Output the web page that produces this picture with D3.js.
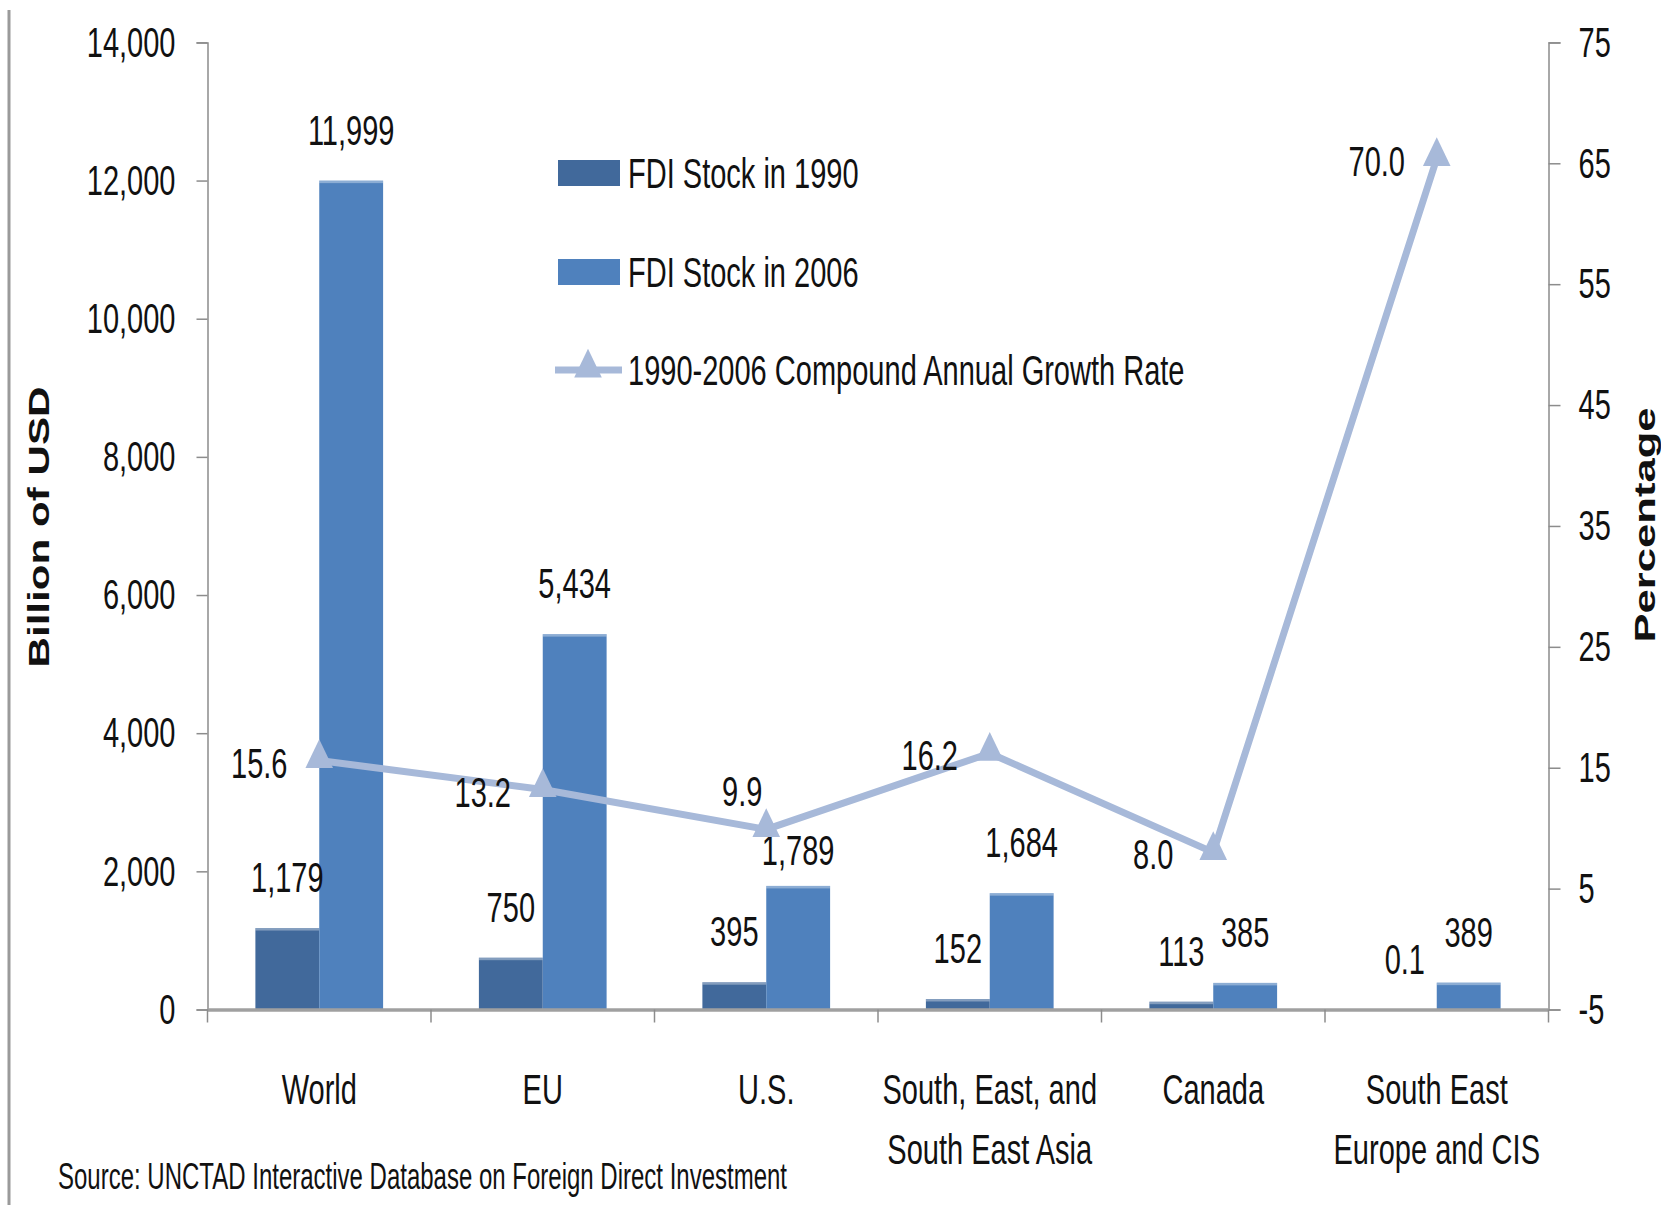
<!DOCTYPE html>
<html>
<head>
<meta charset="utf-8">
<script src="https://cdn.jsdelivr.net/npm/d3@7"></script>
<style>
  body { margin: 0; background: #fff; }
  svg { display: block; }
  text { font-family: "Liberation Sans", Arial, sans-serif; fill: #111; }
</style>
</head>
<body>
<svg id="chart" width="1661" height="1205"></svg>
<script>
const categories = ["World", "EU", "U.S.", "South, East, and\nSouth East Asia", "Canada", "South East\nEurope and CIS"];
const stock1990 = [1179, 750, 395, 152, 113, 0.1];
const stock2006 = [11999, 5434, 1789, 1684, 385, 389];
// plotted growth point and the label printed next to it (last one differs in the source)
const growthRate = [15.6, 13.2, 9.9, 16.2, 8.0, 65.4];
const growthLabels = ["15.6", "13.2", "9.9", "16.2", "8.0", "70.0"];
const leftTicks = [0, 2000, 4000, 6000, 8000, 10000, 12000, 14000];
const rightTicks = [-5, 5, 15, 25, 35, 45, 55, 65, 75];
const seriesNames = ["FDI Stock in 1990", "FDI Stock in 2006", "1990-2006 Compound Annual Growth Rate"];

const svg = d3.select("#chart");
const FS = 43, SX = 0.675;
const c1990 = "#41699b", c2006 = "#4f81bd", cLine = "#a7b9d9";

const plotL = 207.5, plotR = 1548.5, plotT = 42.4, plotB = 1009.5;

const x = d3.scaleBand().domain(d3.range(categories.length)).range([plotL, plotR]);
const yL = d3.scaleLinear().domain([0, 14000]).range([plotB, plotT]);
const yR = d3.scaleLinear().domain([-5, 75]).range([plotB, plotT]);
const barW = x.bandwidth() / 3.5;
const fmt = d3.format(",");
const mid = i => x(i) + x.bandwidth() / 2;

// squeezed text helper
function label(g, x0, y0, txt, anchor) {
  return g.append("text")
    .attr("transform", `translate(${x0},${y0}) scale(${SX},1)`)
    .attr("text-anchor", anchor || "middle")
    .attr("dy", "0.35em")
    .style("font-size", FS + "px")
    .text(txt);
}

// frame line on the left
svg.append("line").attr("x1", 9).attr("x2", 9).attr("y1", 10).attr("y2", 1205)
  .attr("stroke", "#9a9a9a").attr("stroke-width", 3);

// bars
const bars = svg.append("g");
function drawBars(data, off, col) {
  const g = bars.append("g");
  g.selectAll("rect.bar").data(data).enter().append("rect").attr("class", "bar")
    .attr("x", (d, i) => mid(i) + off)
    .attr("y", d => yL(d)).attr("width", barW).attr("height", d => plotB - yL(d))
    .attr("fill", col);
  // light top edge
  g.selectAll("rect.edge").data(data.filter(d => d > 1)).enter().append("rect").attr("class", "edge")
    .attr("x", d => mid(data.indexOf(d)) + off)
    .attr("y", d => yL(d)).attr("width", barW).attr("height", 2.5)
    .attr("fill", "#fff").attr("opacity", 0.35);
}
drawBars(stock1990, -barW, c1990);
drawBars(stock2006, 0, c2006);

// axes
const axL = svg.append("g").attr("transform", `translate(${plotL},0)`)
  .call(d3.axisLeft(yL).tickValues(leftTicks).tickSize(11).tickFormat(fmt));
const axR = svg.append("g").attr("transform", `translate(${plotR},0)`)
  .call(d3.axisRight(yR).tickValues(rightTicks).tickSize(12).tickFormat(d => String(d)));
[axL, axR].forEach(a => {
  a.select(".domain").attr("stroke", "#8c8c8c").attr("stroke-width", 1.5);
  a.selectAll(".tick line").attr("stroke", "#8c8c8c").attr("stroke-width", 1.5);
  a.selectAll(".tick text").style("font-size", FS + "px").attr("font-family", null).attr("fill", "#111");
});
axL.selectAll(".tick text").attr("x", 0).attr("transform", `translate(-32,0) scale(${SX},1)`);
axR.selectAll(".tick text").attr("x", 0).attr("transform", `translate(30,0) scale(${SX},1)`);

// category axis
const axB = svg.append("g").attr("transform", `translate(0,${plotB})`)
  .call(d3.axisBottom(x).tickSize(0).tickFormat(""));
axB.select(".domain").attr("stroke", "#a0a0a0").attr("stroke-width", 3.5);
const bounds = x.domain().map(i => x(i)).concat([plotR]);
axB.selectAll(".sep").data(bounds).enter().append("line")
  .attr("x1", d => d).attr("x2", d => d).attr("y1", 0).attr("y2", 13)
  .attr("stroke", "#8c8c8c").attr("stroke-width", 1.5);

// category names, one text per category, wrapped lines as tspans
const catG = svg.append("g");
categories.forEach((c, i) => {
  const t = catG.append("text")
    .attr("transform", `translate(${mid(i)},1089) scale(${SX},1)`)
    .attr("text-anchor", "middle")
    .style("font-size", FS + "px");
  c.split("\n").forEach((ln, j) => {
    t.append("tspan").attr("x", 0).attr("y", j * 60).attr("dy", "0.35em").text(ln);
  });
});

// bar value labels (U.S. 2006 label sits closer to its bar, under the line marker)
const vl = svg.append("g");
stock1990.forEach((d, i) => label(vl, mid(i) - barW / 2, yL(d) - 51, fmt(d)));
stock2006.forEach((d, i) => label(vl, mid(i) + barW / 2, yL(d) - (i === 2 ? 36 : 51), fmt(d)));

// growth line
const line = d3.line().x((d, i) => mid(i)).y(d => yR(d));
svg.append("path").datum(growthRate).attr("d", line)
  .attr("fill", "none").attr("stroke", cLine).attr("stroke-width", 7).attr("stroke-linejoin", "round");
const tri = d3.symbol().type(d3.symbolTriangle).size(330);
svg.selectAll(".mk").data(growthRate).enter().append("path")
  .attr("d", tri)
  .attr("transform", (d, i) => `translate(${mid(i)},${yR(d) - 2}) scale(1,1.2)`)
  .attr("fill", cLine);
const gl = svg.append("g");
growthRate.forEach((d, i) => {
  // the U.S. label is placed above the point, the others to its left
  const dx = i === 2 ? -24 : -60, dy = i === 2 ? -38 : 2;
  label(gl, mid(i) + dx, yR(d) + dy, growthLabels[i]);
});

// legend
const lg = svg.append("g");
lg.append("rect").attr("x", 558).attr("y", 160).attr("width", 62).attr("height", 26).attr("fill", c1990);
lg.append("rect").attr("x", 558).attr("y", 259).attr("width", 62).attr("height", 26).attr("fill", c2006);
lg.append("line").attr("x1", 555).attr("x2", 622).attr("y1", 370).attr("y2", 370)
  .attr("stroke", cLine).attr("stroke-width", 7);
lg.append("path").attr("d", tri).attr("transform", "translate(588,368) scale(1,1.2)").attr("fill", cLine);
seriesNames.forEach((s, i) => label(lg, 628, [173, 272, 370][i], s, "start"));

// axis titles
svg.append("text").attr("transform", "translate(39,527) rotate(-90)")
  .attr("text-anchor", "middle").attr("dy", "0.35em")
  .style("font-size", "29px").style("font-weight", "bold")
  .attr("textLength", 281).attr("lengthAdjust", "spacingAndGlyphs")
  .text("Billion of USD");
svg.append("text").attr("transform", "translate(1645,525) rotate(-90)")
  .attr("text-anchor", "middle").attr("dy", "0.35em")
  .style("font-size", "29px").style("font-weight", "bold")
  .attr("textLength", 235).attr("lengthAdjust", "spacingAndGlyphs")
  .text("Percentage");

// source note
svg.append("text").attr("x", 58).attr("y", 1176).attr("dy", "0.35em")
  .style("font-size", "36px")
  .attr("textLength", 729).attr("lengthAdjust", "spacingAndGlyphs")
  .text("Source: UNCTAD Interactive Database on Foreign Direct Investment");
</script>
</body>
</html>
